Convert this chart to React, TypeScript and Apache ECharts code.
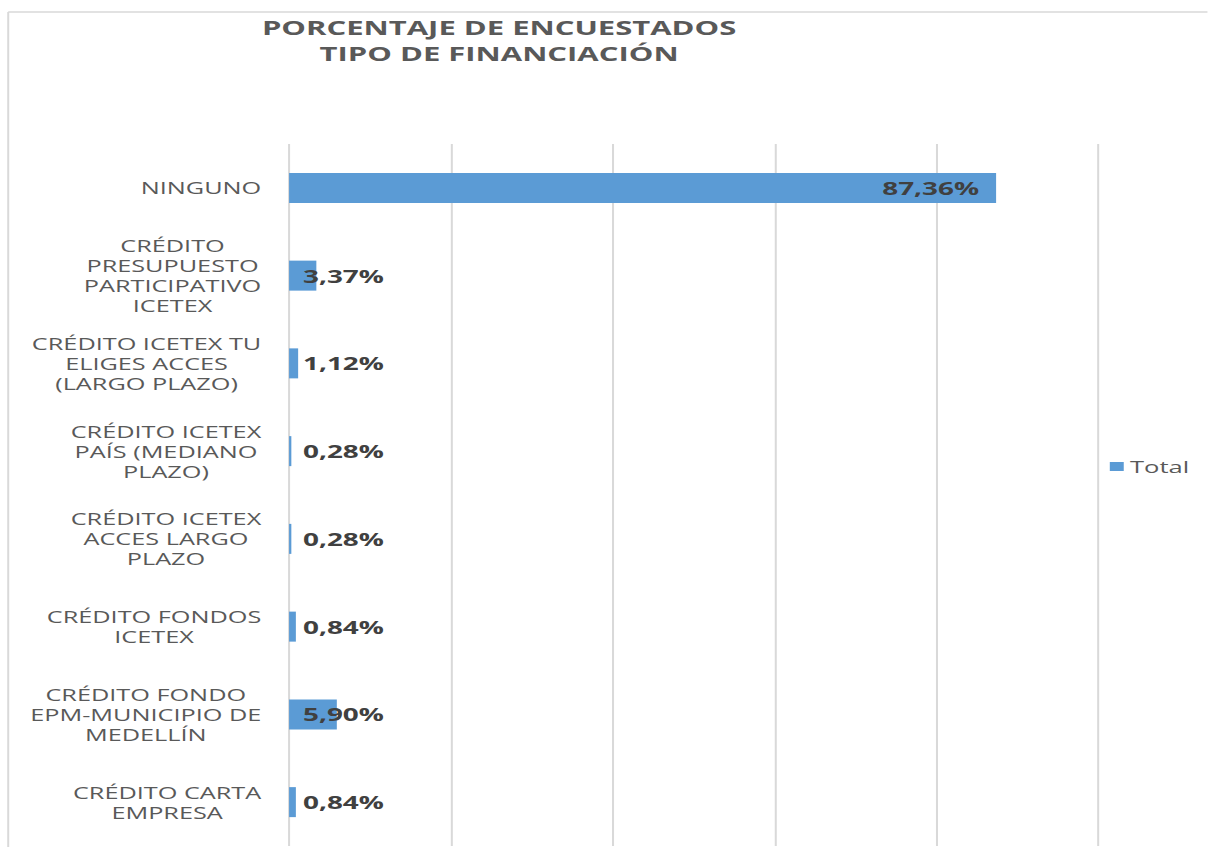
import React, { useEffect, useRef } from "react";
import * as echarts from "echarts";

const titleLines = ["PORCENTAJE DE ENCUESTADOS", "TIPO DE FINANCIACIÓN"];
const categories = [
  "NINGUNO",
  "CRÉDITO\nPRESUPUESTO\nPARTICIPATIVO\nICETEX",
  "CRÉDITO ICETEX TU\nELIGES ACCES\n(LARGO PLAZO)",
  "CRÉDITO ICETEX\nPAÍS (MEDIANO\nPLAZO)",
  "CRÉDITO ICETEX\nACCES LARGO\nPLAZO",
  "CRÉDITO FONDOS\nICETEX",
  "CRÉDITO FONDO\nEPM-MUNICIPIO DE\nMEDELLÍN",
  "CRÉDITO CARTA\nEMPRESA",
];
const values = [87.36, 3.37, 1.12, 0.28, 0.28, 0.84, 5.9, 0.84];
const seriesName = "Total";

const SX = 1.55;
const W = 1208 / SX;

export default function App() {
  const ref = useRef<HTMLDivElement>(null);
  useEffect(() => {
    if (!ref.current) return;
    const chart = echarts.init(ref.current, null, { renderer: "svg" });
    const labelStyle = {
      color: "#404040",
      fontFamily: "Open Sans",
      fontWeight: "bold" as const,
      fontSize: 18,
    };
    const data = values.map((v, i) => {
      if (i === 0) {
        return { value: v, label: { position: "insideRight" as const, distance: 11 } };
      }
      return {
        value: v,
        label: { position: [9, "50%"] as any, align: "left" as const, verticalAlign: "middle" as const },
      };
    });
    chart.setOption({
      animation: false,
      backgroundColor: "#ffffff",
      title: {
        text: titleLines.join("\n"),
        left: 317,
        top: 9,
        textAlign: "center",
        textStyle: {
          color: "#595959",
          fontFamily: "Open Sans",
          fontWeight: "bold",
          fontSize: 20,
          lineHeight: 26,
        },
      },
      legend: {
        data: [seriesName],
        left: 711,
        top: 453,
        itemWidth: 9,
        itemHeight: 9,
        itemGap: 5,
        icon: "rect",
        textStyle: { color: "#595959", fontFamily: "Open Sans", fontSize: 16.5, padding: [0, 0, 0, -1] },
      },
      grid: { left: 186.5, right: W - 709, top: 144, height: 702, containLabel: false },
      xAxis: {
        type: "value",
        min: 0,
        max: 100,
        interval: 20,
        axisLabel: { show: false },
        axisLine: { show: false },
        axisTick: { show: false },
        splitLine: { show: true, lineStyle: { color: "#D9D9D9", width: 1.3 } },
      },
      yAxis: {
        type: "category",
        inverse: true,
        data: categories,
        axisLine: { show: false },
        axisTick: { show: false },
        axisLabel: {
          margin: 18,
          align: "right",
          color: "#595959",
          fontFamily: "Open Sans",
          fontSize: 16.3,
          lineHeight: 20,
          formatter: (v: string) =>
            v.split("\n").map((l) => "{c|" + l + "}").join("\n"),
          rich: {
            c: {
              align: "center",
              color: "#595959",
              fontFamily: "Open Sans",
              fontSize: 16.3,
              lineHeight: 20,
            },
          },
        },
      },
      series: [
        {
          name: seriesName,
          type: "bar",
          data,
          barWidth: 30,
          itemStyle: { color: "#5B9BD5" },
          label: {
            show: true,
            ...labelStyle,
            formatter: (p: any) => p.value.toFixed(2).replace(".", ",") + "%",
          },
        },
      ],
      graphic: [
        {
          type: "line",
          shape: { x1: 5.3, y1: 12, x2: W, y2: 12 },
          style: { stroke: "#D9D9D9", lineWidth: 1.5 },
          silent: true,
        },
        {
          type: "line",
          shape: { x1: 5.3, y1: 12, x2: 5.3, y2: 847 },
          style: { stroke: "#D9D9D9", lineWidth: 1.3 },
          silent: true,
        },
      ],
    });
    return () => chart.dispose();
  }, []);
  return (
    <div
      style={{
        position: "absolute",
        left: 0,
        top: 0,
        width: 1208,
        height: 847,
        overflow: "hidden",
        background: "#fff",
      }}
    >
      <div
        ref={ref}
        style={{
          width: W,
          height: 847,
          transform: `scaleX(${SX})`,
          transformOrigin: "0 0",
        }}
      />
    </div>
  );
}
